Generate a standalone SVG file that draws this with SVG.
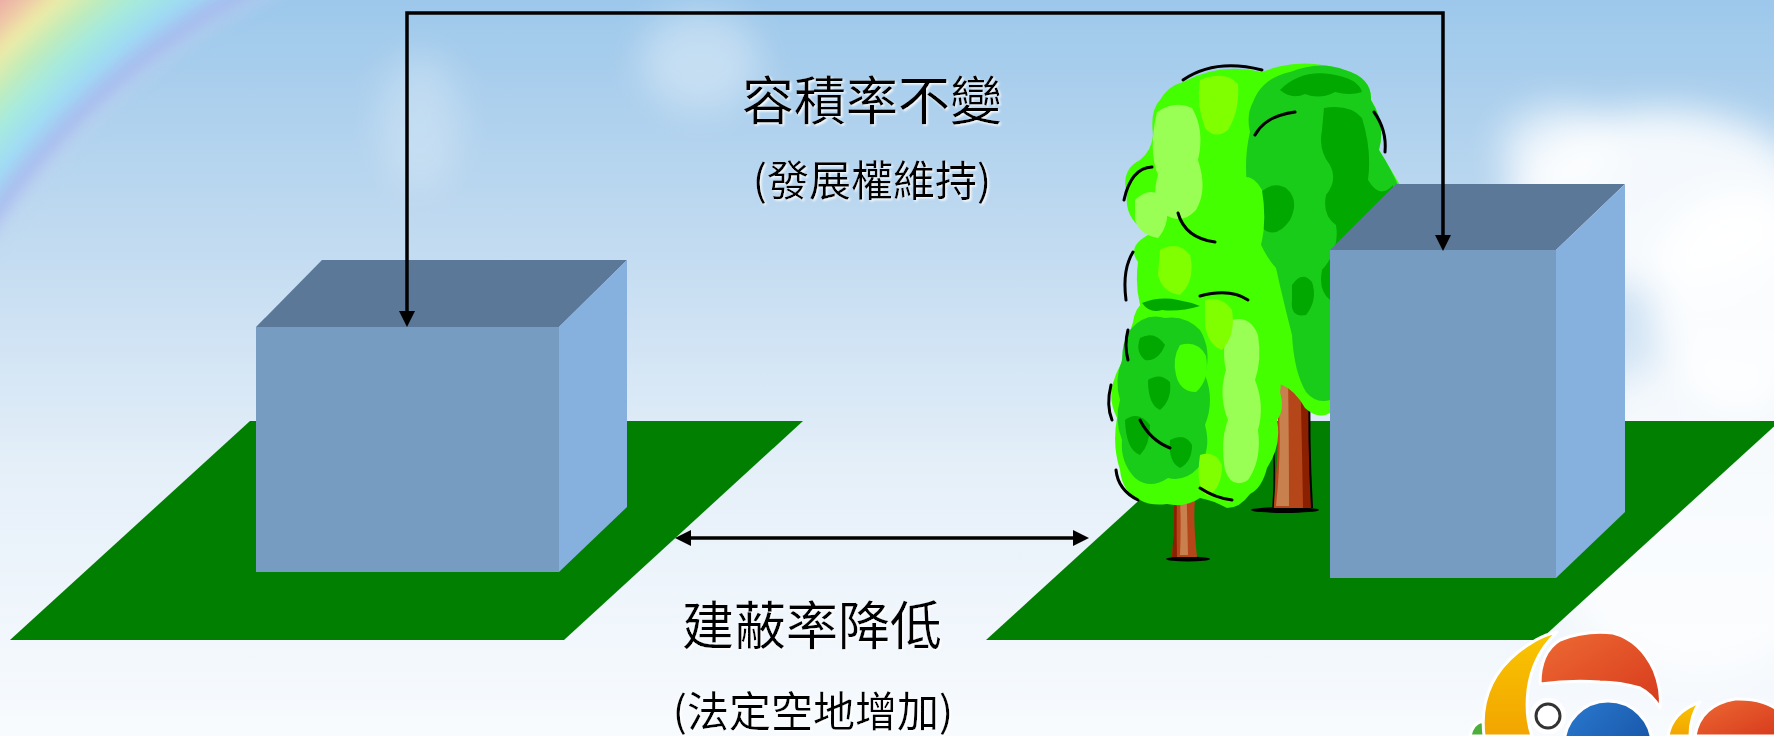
<svg xmlns="http://www.w3.org/2000/svg" width="1774" height="736" viewBox="0 0 1774 736">
  <defs>
    <style>
      .title { font-family: "Noto Sans CJK TC", "Noto Sans CJK SC", sans-serif; fill: #000; text-anchor: middle; }
      .big { font-size: 52px; }
      .small { font-size: 42px; }
      .conn { fill: none; stroke: #000; stroke-width: 3.5; stroke-linejoin: miter; }
      .ground { fill: #007f00; }
      .bx-top { fill: #5b7898; }
      .bx-front { fill: #769cc2; }
      .bx-side { fill: #86b1de; }
      .leaf-b { fill: #44ff00; }
      .leaf-m { fill: #1acc1a; }
      .leaf-d { fill: #00a800; }
      .leaf-l { fill: #99ff55; }
      .leaf-y { fill: #80ff00; }
      .swoosh { fill: none; stroke: #000; stroke-width: 3; stroke-linecap: round; }
      .bark { fill: #b5461a; }
      .bark-hi { fill: #c8804f; }
      .bark-dk { fill: #8a2000; }
    </style>
    <linearGradient id="sky" x1="0" y1="0" x2="0" y2="1">
      <stop offset="0" stop-color="#9dc8eb"/>
      <stop offset="0.35" stop-color="#c4dcf1"/>
      <stop offset="0.65" stop-color="#e6f0f9"/>
      <stop offset="1" stop-color="#f8fbfe"/>
    </linearGradient>
    <radialGradient id="rainbow" gradientUnits="userSpaceOnUse" cx="590" cy="630" r="1000">
      <stop offset="0.70" stop-color="#c8dcf2" stop-opacity="0"/>
      <stop offset="0.725" stop-color="#a8b8ee" stop-opacity="0.85"/>
      <stop offset="0.748" stop-color="#9edcf6" stop-opacity="0.9"/>
      <stop offset="0.775" stop-color="#a6eedc" stop-opacity="0.9"/>
      <stop offset="0.80" stop-color="#c4f0b6" stop-opacity="0.9"/>
      <stop offset="0.825" stop-color="#f4f0a0" stop-opacity="0.9"/>
      <stop offset="0.845" stop-color="#f8c8a0" stop-opacity="0.9"/>
      <stop offset="0.87" stop-color="#f4a0a0" stop-opacity="0.9"/>
      <stop offset="0.9" stop-color="#f4a0a0" stop-opacity="0.9"/>
      <stop offset="0.92" stop-color="#f4a0a0" stop-opacity="0"/>
    </radialGradient>
    <linearGradient id="cornerFade" gradientUnits="userSpaceOnUse" x1="0" y1="0" x2="300" y2="300">
      <stop offset="0.6" stop-color="#fff"/>
      <stop offset="1" stop-color="#000"/>
    </linearGradient>
    <mask id="cornerMask" maskUnits="userSpaceOnUse" x="0" y="0" width="1774" height="736">
      <rect width="1774" height="736" fill="url(#cornerFade)"/>
    </mask>
    <filter id="soft" x="-50%" y="-50%" width="200%" height="200%">
      <feGaussianBlur stdDeviation="18"/>
    </filter>
    <filter id="softer" x="-50%" y="-50%" width="200%" height="200%">
      <feGaussianBlur stdDeviation="5"/>
    </filter>
    <filter id="glow" x="-10%" y="-20%" width="120%" height="140%">
      <feDropShadow dx="1.5" dy="1.5" stdDeviation="1" flood-color="#ffffff" flood-opacity="0.95"/>
    </filter>
    <marker id="head" markerUnits="userSpaceOnUse" markerWidth="16" markerHeight="16" viewBox="0 0 16 16" refX="0" refY="8" orient="auto-start-reverse">
      <path d="M0,0 L16,8 L0,16 Z" fill="#000"/>
    </marker>
    <linearGradient id="logoYellow" x1="0" y1="0" x2="0" y2="1">
      <stop offset="0" stop-color="#f9c600"/>
      <stop offset="1" stop-color="#f2a400"/>
    </linearGradient>
    <linearGradient id="logoRed" x1="0" y1="0" x2="1" y2="1">
      <stop offset="0" stop-color="#ee6a34"/>
      <stop offset="1" stop-color="#d63a1c"/>
    </linearGradient>
    <linearGradient id="logoBlue" x1="0" y1="0" x2="1" y2="1">
      <stop offset="0" stop-color="#2a7ad0"/>
      <stop offset="1" stop-color="#124a9a"/>
    </linearGradient>
  </defs>

  <!-- sky backdrop -->
  <g id="backdrop">
    <rect width="1774" height="736" fill="url(#sky)"/>
    <g mask="url(#cornerMask)">
      <rect x="-20" y="-20" width="440" height="420" fill="url(#rainbow)" filter="url(#softer)"/>
    </g>
    <g fill="#ffffff" filter="url(#soft)">
      <ellipse cx="1660" cy="200" rx="150" ry="90" opacity="0.85"/>
      <ellipse cx="1740" cy="300" rx="90" ry="110" opacity="0.9"/>
      <ellipse cx="1560" cy="150" rx="60" ry="45" opacity="0.6"/>
      <ellipse cx="700" cy="60" rx="60" ry="50" opacity="0.35"/>
      <ellipse cx="420" cy="120" rx="40" ry="70" opacity="0.25"/>
      <ellipse cx="1700" cy="520" rx="160" ry="160" opacity="0.7"/>
    </g>
  </g>

  <!-- left plot -->
  <g id="plot-left">
    <polygon class="ground" points="250,421 803,421 564,640 10,640"/>
  </g>
  <g id="building-left">
    <polygon class="bx-top" points="256,327 322,260 627,260 559,327"/>
    <polygon class="bx-side" points="559,327 627,260 627,507 559,572"/>
    <rect class="bx-front" x="256" y="327" width="303" height="245"/>
  </g>

  <!-- right plot -->
  <g id="plot-right">
    <polygon class="ground" points="1226,421 1780,421 1540,640 986,640"/>
  </g>

  <!-- trees -->
  <g id="trees">
    <!-- rear tree trunk -->
    <ellipse cx="1285" cy="510" rx="34" ry="3" fill="#000"/>
    <path class="bark" d="M1276,372 Q1281,440 1273,508 L1312,508 Q1308,440 1310,365 Z"/>
    <path class="bark-hi" d="M1277,380 Q1283,440 1276,506 L1289,506 Q1289,440 1288,378 Z"/>
    <path class="bark-dk" d="M1300,368 L1310,365 Q1308,440 1312,508 L1303,508 Q1302,440 1300,368 Z"/>
    <path d="M1310,365 Q1308,440 1312,508" fill="none" stroke="#000" stroke-width="2"/>
    <path d="M1272,420 Q1276,470 1273,508" fill="none" stroke="#000" stroke-width="1.5"/>

    <!-- rear tree canopy -->
    <path class="leaf-b" d="M1183,82 Q1220,62 1262,72 Q1300,56 1345,70 Q1372,78 1371,100 Q1386,122 1379,150 Q1390,168 1400,185 L1400,330 L1330,330 L1330,413 Q1318,420 1305,408 Q1292,385 1272,382 L1150,330 Q1133,300 1138,262 Q1126,246 1150,234 Q1124,220 1127,195 Q1120,170 1140,160 Q1152,150 1153,135 Q1150,110 1160,100 Q1168,86 1183,82 Z"/>
    <path class="leaf-m" d="M1253,102 Q1262,78 1290,72 Q1320,60 1345,70 Q1372,78 1371,100 Q1386,124 1379,150 Q1392,170 1400,190 L1400,330 L1330,330 L1330,400 Q1316,404 1306,392 Q1294,372 1292,335 Q1283,300 1276,268 Q1256,246 1250,205 Q1242,165 1250,132 Q1246,115 1253,102 Z"/>
    <path class="leaf-d" d="M1280,90 Q1300,70 1330,74 Q1358,78 1362,92 Q1350,96 1335,92 Q1320,100 1305,94 Q1292,100 1280,90 Z"/>
    <path class="leaf-d" d="M1324,108 Q1350,104 1362,118 Q1372,150 1368,180 Q1380,200 1393,185 L1393,320 L1330,320 L1330,300 Q1318,290 1322,270 Q1340,250 1336,225 Q1322,215 1326,195 Q1338,180 1330,165 Q1318,150 1322,130 Z"/>
    <path class="leaf-d" d="M1292,285 Q1302,270 1312,282 Q1318,300 1306,315 Q1290,318 1292,300 Z"/>
    <path class="leaf-d" d="M1258,195 Q1272,180 1286,188 Q1300,200 1290,220 Q1276,240 1262,228 Q1252,212 1258,195 Z"/>
    <path class="leaf-l" d="M1157,112 Q1175,100 1192,108 Q1205,130 1198,160 Q1208,190 1196,210 Q1182,225 1166,215 Q1150,200 1158,175 Q1148,150 1157,112 Z"/>
    <path class="leaf-y" d="M1200,80 Q1225,70 1238,84 Q1240,110 1228,130 Q1215,140 1205,128 Q1196,105 1200,80 Z"/>
    <path class="leaf-l" d="M1135,200 Q1150,185 1165,198 Q1172,222 1158,238 Q1140,235 1135,220 Z"/>
    <path class="leaf-y" d="M1160,250 Q1178,240 1190,255 Q1196,280 1180,295 Q1162,292 1158,275 Z"/>
    <path class="leaf-b" d="M1232,180 Q1252,170 1262,190 Q1270,240 1250,270 Q1230,280 1222,250 Q1218,210 1232,180 Z"/>
    <!-- rear tree shading strokes -->
    <path class="swoosh" d="M1183,80 Q1215,58 1262,70"/>
    <path class="swoosh" d="M1152,167 Q1131,168 1124,200"/>
    <path class="swoosh" d="M1178,213 Q1185,238 1215,242"/>
    <path class="swoosh" d="M1374,112 Q1387,130 1385,152"/>
    <path class="swoosh" d="M1133,252 Q1122,270 1126,300"/>
    <path class="swoosh" d="M1255,135 Q1265,116 1295,112"/>

    <!-- front tree trunk -->
    <ellipse cx="1188" cy="559" rx="22" ry="2.5" fill="#000"/>
    <path class="bark" d="M1172,462 Q1176,510 1172,557 L1197,557 Q1193,520 1195,500 Q1205,490 1213,481 L1208,476 Q1200,485 1196,490 Q1194,475 1197,462 Z"/>
    <path class="bark-hi" d="M1178,470 Q1182,510 1180,555 L1188,555 Q1187,510 1186,470 Z"/>
    <path class="bark-dk" d="M1172,462 L1178,462 Q1176,510 1177,557 L1172,557 Q1176,510 1172,462 Z"/>

    <!-- front tree canopy -->
    <path class="leaf-b" d="M1143,303 Q1160,294 1177,298 Q1200,292 1222,296 Q1240,294 1256,316 Q1270,335 1267,352 Q1284,372 1280,392 Q1285,410 1277,420 Q1282,445 1267,468 Q1262,488 1250,494 Q1240,508 1227,508 Q1212,500 1200,498 Q1185,508 1167,504 Q1150,506 1140,500 Q1122,492 1120,470 Q1112,445 1117,418 Q1108,400 1113,383 Q1118,365 1130,352 Q1128,335 1133,322 Q1135,308 1143,303 Z"/>
    <path class="leaf-m" d="M1130,330 Q1145,312 1165,318 Q1185,315 1200,330 Q1212,350 1205,375 Q1215,400 1205,425 Q1212,450 1198,468 Q1185,482 1168,478 Q1150,490 1135,478 Q1120,462 1122,440 Q1114,420 1120,400 Q1114,380 1122,360 Q1122,342 1130,330 Z"/>
    <path class="leaf-d" d="M1140,338 Q1155,330 1165,345 Q1158,362 1145,360 Q1135,352 1140,338 Z"/>
    <path class="leaf-d" d="M1148,380 Q1160,372 1170,382 Q1172,400 1160,410 Q1148,405 1148,380 Z"/>
    <path class="leaf-d" d="M1125,420 Q1138,410 1150,425 Q1150,445 1140,455 Q1126,450 1125,420 Z"/>
    <path class="leaf-d" d="M1170,440 Q1185,432 1192,445 Q1192,462 1180,468 Q1168,462 1170,440 Z"/>
    <path class="leaf-d" d="M1142,303 Q1160,296 1178,300 Q1190,302 1200,306 Q1180,312 1162,310 Q1150,314 1142,303 Z"/>
    <path class="leaf-l" d="M1232,320 Q1250,315 1258,335 Q1262,360 1255,380 Q1265,405 1258,430 Q1262,460 1248,480 Q1232,490 1225,470 Q1220,440 1228,420 Q1218,395 1226,370 Q1220,345 1232,320 Z"/>
    <path class="leaf-y" d="M1205,300 Q1222,296 1232,310 Q1236,335 1222,350 Q1208,345 1205,325 Z"/>
    <path class="leaf-y" d="M1200,455 Q1215,450 1222,465 Q1222,488 1208,496 Q1195,490 1200,455 Z"/>
    <path class="leaf-b" d="M1180,345 Q1198,340 1206,356 Q1210,380 1196,392 Q1180,392 1176,375 Q1172,358 1180,345 Z"/>
    <!-- front tree shading strokes -->
    <path class="swoosh" d="M1200,296 Q1230,288 1248,300"/>
    <path class="swoosh" d="M1128,330 Q1124,345 1128,360"/>
    <path class="swoosh" d="M1111,385 Q1106,405 1112,420"/>
    <path class="swoosh" d="M1116,470 Q1118,490 1138,500"/>
    <path class="swoosh" d="M1140,420 Q1150,440 1170,448"/>
    <path class="swoosh" d="M1200,488 Q1215,498 1232,500"/>
  </g>

  <g id="building-right">
    <polygon class="bx-top" points="1330,250 1396,184 1625,184 1556,250"/>
    <polygon class="bx-side" points="1556,250 1625,184 1625,512 1556,578"/>
    <rect class="bx-front" x="1330" y="250" width="226" height="328"/>
  </g>

  <!-- corner emblem -->
  <g id="emblem" stroke="#ffffff" stroke-width="3" stroke-linejoin="round">
    <path d="M1470,736 Q1472,724 1482,721 L1490,736 Z" fill="#4caf3c"/>
    <path d="M1484,736 Q1478,684 1518,652 Q1538,636 1557,632 Q1532,656 1528,690 Q1525,716 1532,736 Z" fill="url(#logoYellow)"/>
    <path d="M1540,684 Q1540,652 1560,640 Q1585,630 1613,633 Q1640,640 1654,670 Q1662,690 1660,708 Q1652,694 1640,688 Q1620,682 1600,682 Q1570,680 1540,684 Z" fill="url(#logoRed)"/>
    <circle cx="1608" cy="745" r="44" fill="url(#logoBlue)"/>
    <circle cx="1548" cy="716" r="18" fill="#ffffff" stroke="none"/>
    <circle cx="1548" cy="716" r="12" fill="#ffffff" stroke="#333333" stroke-width="3"/>
    <path d="M1668,736 Q1672,712 1700,702 Q1690,715 1690,736 Z" fill="url(#logoYellow)"/>
    <path d="M1695,736 Q1700,705 1735,699 Q1765,698 1780,712 L1780,736 Z" fill="url(#logoRed)"/>
  </g>

  <!-- dimension arrows -->
  <g id="connectors">
    <path class="conn" d="M407,311 V13 H1443 V235" marker-start="url(#head)" marker-end="url(#head)"/>
    <path class="conn" d="M691,538 H1073" marker-start="url(#head)" marker-end="url(#head)"/>
  </g>

  <!-- labels -->
  <g id="label-far" filter="url(#glow)">
    <text class="title big" x="872" y="120">容積率不變</text>
    <text class="title small" x="872" y="196">(發展權維持)</text>
  </g>
  <g id="label-bcr" filter="url(#glow)">
    <text class="title big" x="812" y="645">建蔽率降低</text>
    <text class="title small" x="813" y="727">(法定空地增加)</text>
  </g>
</svg>
